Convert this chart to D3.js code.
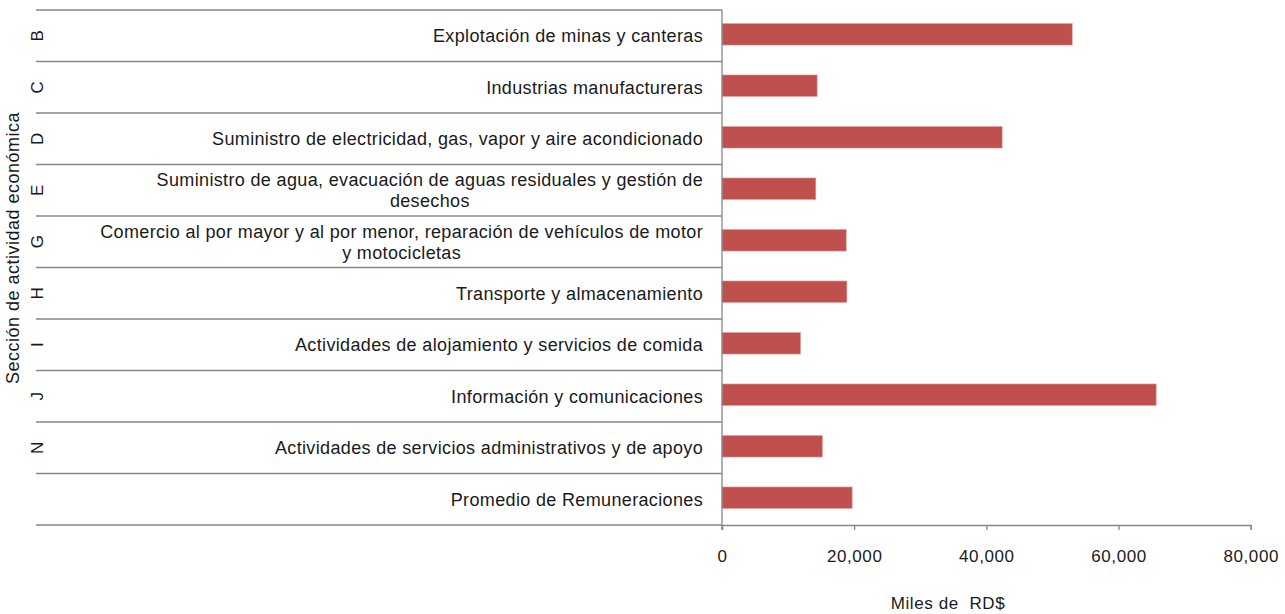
<!DOCTYPE html>
<html>
  <head>
    <meta charset="utf-8">
    <title>Remuneraciones por sección</title>
    <script src="https://cdnjs.cloudflare.com/ajax/libs/d3/7.8.5/d3.min.js"></script>
    <style>
      body { margin: 0; background: #fff; }
      text { font-family: "Liberation Sans", Arial, sans-serif; fill: #1a1a1a; }
    </style>
  </head>
  <body>
    <div id="chart"></div>
    <script type="text/javascript">
      // data
      var codes = ["B", "C", "D", "E", "G", "H", "I", "J", "N", ""];
      var sectors = [
        ["Explotación de minas y canteras"],
        ["Industrias manufactureras"],
        ["Suministro de electricidad, gas, vapor y aire acondicionado"],
        ["Suministro de agua, evacuación de aguas residuales y gestión de", "desechos"],
        ["Comercio al por mayor y al por menor, reparación de vehículos de motor", "y motocicletas"],
        ["Transporte y almacenamiento"],
        ["Actividades de alojamiento y servicios de comida"],
        ["Información y comunicaciones"],
        ["Actividades de servicios administrativos y de apoyo"],
        ["Promedio de Remuneraciones"]
      ];
      var values = [53000, 14400, 42400, 14200, 18800, 18900, 11900, 65700, 15200, 19700];
      var xTicks = [0, 20000, 40000, 60000, 80000];

      var w = 1285, h = 614;
      var svg = d3.select("#chart").append("svg")
        .attr("width", w)
        .attr("height", h);

      var x = d3.scaleLinear().domain([0, 80000]).range([722, 1250.7]);
      var y = d3.scaleBand()
        .domain(d3.range(codes.length))
        .range([10, 525])
        .paddingInner(0.58)
        .paddingOuter(0.29)
        .align(0.45);

      var step = y.step();
      var plotTop = 10;
      var gray = "#878787";

      // row separators (outer level + inner level)
      var seps = d3.range(codes.length + 1);
      svg.selectAll("line.sep-outer")
        .data(seps).enter().append("line")
        .attr("x1", 36).attr("x2", 92)
        .attr("y1", function(d) { return plotTop + d * step; })
        .attr("y2", function(d) { return plotTop + d * step; })
        .attr("stroke", gray).attr("stroke-width", 1.3);
      svg.selectAll("line.sep-inner")
        .data(seps).enter().append("line")
        .attr("x1", 92).attr("x2", 722)
        .attr("y1", function(d) { return plotTop + d * step; })
        .attr("y2", function(d) { return plotTop + d * step; })
        .attr("stroke", gray).attr("stroke-width", 1.3);

      // bars
      svg.selectAll("rect.bar")
        .data(values).enter().append("rect")
        .attr("x", x(0))
        .attr("y", function(d, i) { return y(i); })
        .attr("width", function(d) { return x(d) - x(0); })
        .attr("height", y.bandwidth())
        .attr("fill", "#C0504D")
        .attr("stroke", "#e6a9a7")
        .attr("stroke-width", 0.6);

      // vertical axis line
      svg.append("line")
        .attr("x1", x(0)).attr("x2", x(0))
        .attr("y1", plotTop).attr("y2", 530)
        .attr("stroke", gray).attr("stroke-width", 1.3);

      // x axis
      var xAxis = d3.axisBottom(x)
        .tickValues(xTicks)
        .tickSize(5)
        .tickPadding(20)
        .tickFormat(d3.format(","));
      var gx = svg.append("g")
        .attr("transform", "translate(0,525)")
        .call(xAxis);
      gx.select(".domain").attr("stroke", gray).attr("stroke-width", 1.3);
      gx.selectAll(".tick line").attr("stroke", gray).attr("stroke-width", 1.3);
      gx.selectAll(".tick text")
        .style("font-size", "17px")
        .style("letter-spacing", "0.6px")
        .style("font-family", "\"Liberation Sans\", Arial, sans-serif")
        .attr("fill", "#1a1a1a");

      // category labels
      sectors.forEach(function(lines, i) {
        var cy = plotTop + (i + 0.5) * step;
        var lh = 21;
        var y0 = cy - (lines.length - 1) * lh / 2;
        var first = svg.append("text")
          .attr("x", 703)
          .attr("y", y0)
          .attr("dy", "0.35em")
          .attr("text-anchor", "end")
          .style("font-size", "18px")
          .style("letter-spacing", "0.35px")
          .text(lines[0]);
        if (lines.length > 1) {
          var len = first.node().getComputedTextLength();
          svg.append("text")
            .attr("x", 703 - len / 2)
            .attr("y", y0 + lh)
            .attr("dy", "0.35em")
            .attr("text-anchor", "middle")
            .style("font-size", "18px")
            .style("letter-spacing", "0.35px")
            .text(lines[1]);
        }
      });

      // section codes, rotated
      svg.selectAll("text.code")
        .data(codes).enter().append("text")
        .attr("transform", function(d, i) {
          return "translate(37," + (plotTop + (i + 0.5) * step) + ") rotate(-90)";
        })
        .attr("text-anchor", "middle")
        .attr("dy", "0.35em")
        .style("font-size", "17px")
        .text(function(d) { return d; });

      // axis titles
      svg.append("text")
        .attr("transform", "translate(13,248) rotate(-90)")
        .attr("text-anchor", "middle")
        .attr("dy", "0.35em")
        .style("font-size", "18px")
        .style("letter-spacing", "0.5px")
        .text("Sección de actividad económica");

      svg.append("text")
        .attr("x", 948)
        .attr("y", 603)
        .attr("text-anchor", "middle")
        .attr("dy", "0.35em")
        .style("font-size", "17px")
        .style("letter-spacing", "0.6px")
        .style("white-space", "pre")
        .text("Miles de  RD$");
    </script>
  </body>
</html>
